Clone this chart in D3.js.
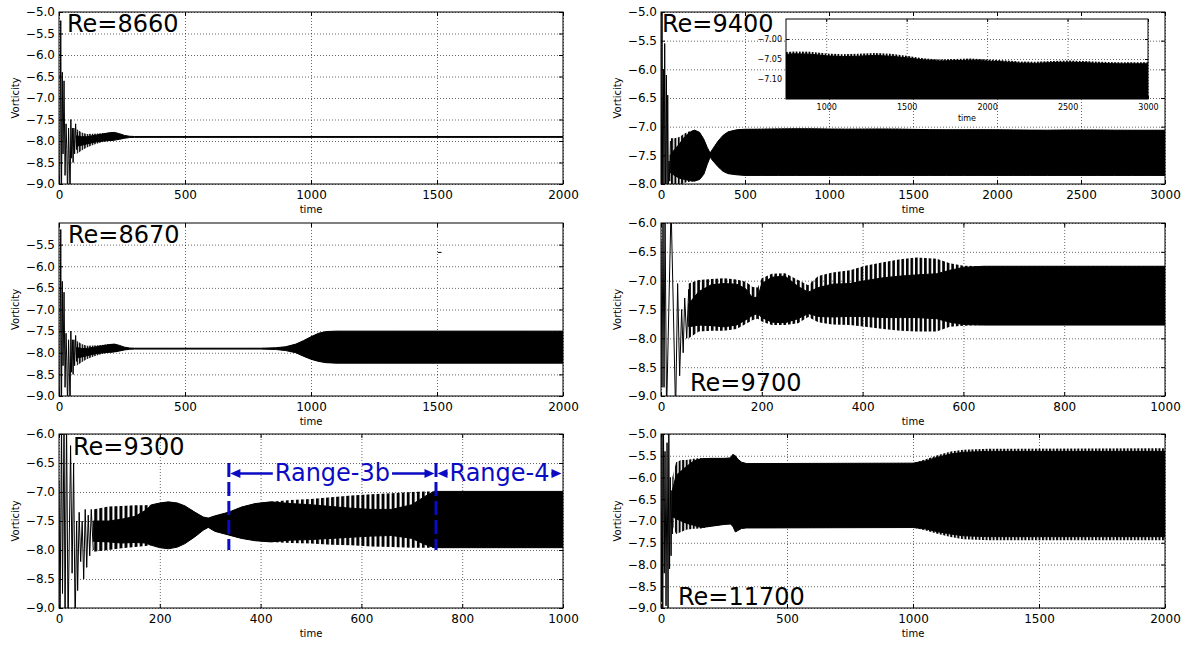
<!DOCTYPE html>
<html><head><meta charset="utf-8">
<script src="https://cdn.jsdelivr.net/npm/d3@7"></script>
<style>
body{margin:0;background:#fff;}
svg{display:block;font-family:"DejaVu Sans","Liberation Sans",sans-serif;}
</style></head><body>
<svg id="chart" width="1187" height="646"></svg>
<script>
// ---------------- tick values ----------------
const xTicks2000 = [0, 500, 1000, 1500, 2000];
const xTicks3000 = [0, 500, 1000, 1500, 2000, 2500, 3000];
const xTicks1000 = [0, 200, 400, 600, 800, 1000];
const yTicksA = [-9.0, -8.5, -8.0, -7.5, -7.0, -6.5, -6.0, -5.5, -5.0];
const yTicksB = [-8.0, -7.5, -7.0, -6.5, -6.0, -5.5, -5.0];
const yTicksC = [-9.0, -8.5, -8.0, -7.5, -7.0, -6.5, -6.0, -5.5];
const yTicksD = [-9.0, -8.5, -8.0, -7.5, -7.0, -6.5, -6.0];
const insetXTicks = [1000, 1500, 2000, 2500, 3000];
const insetYTicks = [-7.10, -7.05, -7.00];
const reLabels = ["Re=8660", "Re=9400", "Re=8670", "Re=9700", "Re=9300", "Re=11700"];
const rangeBounds = [337, 748, 1000];
const rangeLabels = ["Range-3b", "Range-4"];

// ---------------- series: early transient (time, vorticity) ----------------
const tr8660 = [[0,-8.8],[3,-9.3],[7,-5.2],[10,-9.3],[13,-6.4],[16,-8.3],[20,-6.6],[24,-8.8],[28,-7.6],[31,-8.2],[34,-9.3],[38,-7.7],[41,-8.4],[44,-9.3],[47,-7.5],[50,-8.4],[53,-7.7],[56,-8.5],[59,-7.7],[62,-8.3],[66,-7.6],[70,-8.2],[74,-7.8]];
const tr8670 = [[0,-8.8],[3,-9.3],[7,-5.15],[10,-9.3],[13,-6.35],[16,-8.3],[20,-6.6],[24,-8.8],[28,-7.55],[31,-8.2],[34,-9.3],[38,-7.7],[41,-8.4],[44,-9.3],[47,-7.5],[50,-8.45],[53,-7.7],[56,-8.5],[59,-7.7],[62,-8.3],[66,-7.6],[70,-8.2],[74,-7.8]];
const tr9400 = [[0,-7.0],[2,-8.2],[6,-4.8],[10,-8.2],[14,-6.0],[18,-8.2],[22,-5.55],[27,-8.2],[32,-6.1],[36,-8.1],[40,-6.45],[44,-8.1],[48,-7.6],[52,-7.95],[56,-7.25]];
const tr9700 = [[0,-6.3],[2,-8.85],[4,-5.8],[6,-8.85],[8,-5.8],[11,-9.3],[20,-5.7],[29,-9.3],[33,-7.05],[37,-8.65],[41,-7.5],[44,-8.25],[47,-7.3],[51,-8.0],[55,-7.15],[58,-7.95]];
const tr9300 = [[0,-6.8],[2,-9.3],[5,-5.8],[7,-8.75],[10,-5.8],[12,-9.3],[15,-5.8],[18,-9.3],[23,-6.2],[26,-8.4],[29,-6.5],[32,-9.3],[35,-7.5],[37,-8.7],[40,-7.35],[43,-8.2],[46,-7.5],[49,-8.5],[52,-7.3],[55,-8.3],[58,-7.4],[61,-8.1],[64,-7.3],[68,-8.0]];
const tr11700 = [[0,-6.8],[2,-8.85],[4,-4.8],[7,-9.3],[10,-4.8],[13,-8.2],[16,-5.4],[20,-8.95],[24,-5.2],[28,-9.3],[31,-4.8],[34,-8.1],[37,-6.0],[40,-7.8],[43,-6.3],[46,-7.3]];
const stray8670 = [[1503,-5.68],[1518,-5.68]];

// ---------------- series: oscillation envelope [time, tipHigh, coreHigh, coreLow, tipLow] ----------------
const band8660 = [
 [70,-7.72,-7.88,-8.12,-8.3],[90,-7.8,-7.9,-8.1,-8.22],[110,-7.84,-7.9,-8.07,-8.15],[140,-7.83,-7.87,-8.03,-8.08],
 [170,-7.82,-7.84,-8.0,-8.03],[200,-7.8,-7.81,-7.99,-8.0],[220,-7.8,-7.8,-7.98,-7.98],[240,-7.83,-7.83,-7.96,-7.96],
 [260,-7.87,-7.87,-7.935,-7.935],[280,-7.89,-7.89,-7.92,-7.92],[300,-7.895,-7.895,-7.915,-7.915],[2000,-7.895,-7.895,-7.915,-7.915]];
const band8670 = [
 [70,-7.72,-7.88,-8.12,-8.3],[90,-7.8,-7.9,-8.1,-8.22],[110,-7.84,-7.9,-8.07,-8.15],[140,-7.83,-7.87,-8.03,-8.08],
 [170,-7.82,-7.84,-8.0,-8.03],[200,-7.8,-7.81,-7.99,-8.0],[220,-7.8,-7.8,-7.98,-7.98],[240,-7.83,-7.83,-7.96,-7.96],
 [260,-7.87,-7.87,-7.935,-7.935],[280,-7.89,-7.89,-7.92,-7.92],[300,-7.895,-7.895,-7.915,-7.915],[800,-7.895,-7.895,-7.915,-7.915],
 [860,-7.885,-7.885,-7.925,-7.925],[900,-7.86,-7.86,-7.95,-7.95],[940,-7.8,-7.8,-8.0,-8.0],[970,-7.72,-7.72,-8.08,-8.08],
 [1000,-7.63,-7.63,-8.15,-8.15],[1030,-7.55,-7.55,-8.2,-8.2],[1060,-7.51,-7.51,-8.23,-8.23],[1100,-7.5,-7.5,-8.24,-8.24],[2000,-7.5,-7.5,-8.24,-8.24]];
const band9400 = [
 [55,-7.2,-7.5,-7.8,-8.05],[80,-7.2,-7.4,-7.85,-8.05],[110,-7.18,-7.3,-7.9,-8.02],[140,-7.12,-7.18,-7.92,-7.98],
 [170,-7.08,-7.1,-7.94,-7.96],[200,-7.06,-7.06,-7.95,-7.95],[230,-7.1,-7.1,-7.92,-7.92],[255,-7.22,-7.22,-7.83,-7.83],
 [275,-7.36,-7.36,-7.66,-7.66],[292,-7.46,-7.46,-7.53,-7.53],[310,-7.38,-7.38,-7.6,-7.6],[340,-7.25,-7.25,-7.7,-7.7],
 [370,-7.15,-7.15,-7.78,-7.78],[400,-7.09,-7.09,-7.82,-7.82],[450,-7.055,-7.055,-7.84,-7.84],[500,-7.045,-7.045,-7.85,-7.85],
 [600,-7.038,-7.044,-7.85,-7.85],[700,-7.034,-7.04,-7.85,-7.85],[800,-7.031,-7.037,-7.85,-7.85],[900,-7.032,-7.038,-7.85,-7.85],
 [1000,-7.036,-7.042,-7.85,-7.85],[1100,-7.038,-7.044,-7.85,-7.85],[1200,-7.037,-7.043,-7.85,-7.85],[1300,-7.035,-7.041,-7.85,-7.85],
 [1400,-7.037,-7.043,-7.85,-7.85],[1500,-7.042,-7.047,-7.85,-7.85],[1600,-7.048,-7.052,-7.85,-7.85],[1700,-7.051,-7.055,-7.85,-7.85],
 [1800,-7.05,-7.054,-7.85,-7.85],[1900,-7.049,-7.053,-7.85,-7.85],[2000,-7.051,-7.055,-7.85,-7.85],[2100,-7.053,-7.057,-7.85,-7.85],
 [2200,-7.056,-7.06,-7.85,-7.85],[2300,-7.057,-7.061,-7.85,-7.85],[2400,-7.055,-7.059,-7.85,-7.85],[2500,-7.054,-7.058,-7.85,-7.85],
 [2600,-7.055,-7.059,-7.85,-7.85],[2700,-7.057,-7.061,-7.85,-7.85],[2800,-7.058,-7.062,-7.85,-7.85],[2900,-7.058,-7.062,-7.85,-7.85],
 [3000,-7.058,-7.062,-7.85,-7.85]];
const band9700 = [
 [55,-7.05,-7.4,-7.8,-8.0],[75,-6.99,-7.19,-7.77,-7.88],[100,-6.97,-7.07,-7.78,-7.87],[125,-6.96,-7.05,-7.8,-7.87],
 [150,-6.98,-7.06,-7.77,-7.84],[168,-7.02,-7.14,-7.68,-7.75],[182,-7.11,-7.3,-7.6,-7.68],[192,-7.12,-7.28,-7.57,-7.66],
 [200,-6.96,-7.05,-7.64,-7.71],[220,-6.88,-6.94,-7.72,-7.77],[246,-6.87,-6.92,-7.73,-7.77],[272,-6.99,-7.1,-7.66,-7.74],
 [292,-7.08,-7.2,-7.57,-7.63],[312,-6.92,-7.12,-7.62,-7.72],[340,-6.86,-7.06,-7.63,-7.76],[375,-6.82,-7.05,-7.62,-7.77],
 [405,-6.74,-7.0,-7.62,-7.8],[441,-6.68,-6.95,-7.64,-7.84],[475,-6.63,-6.92,-7.64,-7.87],[507,-6.6,-6.9,-7.64,-7.88],
 [547,-6.62,-6.88,-7.66,-7.88],[573,-6.7,-6.82,-7.72,-7.8],[600,-6.74,-6.77,-7.76,-7.78],[640,-6.75,-6.75,-7.77,-7.77],
 [1000,-6.75,-6.75,-7.77,-7.77]];
const band9300 = [
 [68,-7.3,-7.5,-7.85,-8.03],[98,-7.25,-7.5,-7.86,-8.0],[124,-7.24,-7.47,-7.88,-7.97],[151,-7.23,-7.42,-7.87,-7.95],
 [171,-7.23,-7.32,-7.88,-7.93],[184,-7.22,-7.22,-7.92,-7.92],[200,-7.19,-7.19,-7.96,-7.96],[217,-7.17,-7.17,-7.98,-7.98],
 [235,-7.19,-7.19,-7.95,-7.95],[250,-7.24,-7.24,-7.89,-7.89],[270,-7.35,-7.35,-7.77,-7.77],[286,-7.43,-7.43,-7.66,-7.66],
 [296,-7.45,-7.45,-7.61,-7.61],[310,-7.41,-7.41,-7.68,-7.68],[336,-7.35,-7.35,-7.74,-7.74],[362,-7.26,-7.26,-7.8,-7.8],
 [389,-7.2,-7.2,-7.84,-7.84],[420,-7.17,-7.17,-7.86,-7.86],[460,-7.14,-7.2,-7.83,-7.88],[500,-7.12,-7.22,-7.82,-7.89],
 [540,-7.09,-7.25,-7.8,-7.91],[580,-7.06,-7.28,-7.78,-7.92],[620,-7.04,-7.3,-7.76,-7.94],[660,-7.02,-7.3,-7.75,-7.95],
 [700,-7.0,-7.22,-7.8,-7.96],[725,-6.99,-7.08,-7.9,-7.96],[745,-6.99,-6.99,-7.96,-7.96],[1000,-6.99,-6.99,-7.96,-7.96]];
const band11700 = [
 [45,-6.0,-6.3,-6.9,-7.1],[60,-5.65,-5.95,-6.95,-7.3],[80,-5.6,-5.85,-7.0,-7.25],[100,-5.6,-5.75,-7.05,-7.2],
 [130,-5.57,-5.62,-7.1,-7.18],[160,-5.55,-5.57,-7.15,-7.17],[200,-5.56,-5.56,-7.12,-7.12],[250,-5.56,-5.56,-7.08,-7.08],
 [275,-5.55,-5.55,-7.07,-7.07],[285,-5.47,-5.47,-7.12,-7.12],[295,-5.5,-5.5,-7.25,-7.25],[305,-5.58,-5.58,-7.22,-7.22],
 [320,-5.65,-5.65,-7.17,-7.17],[340,-5.68,-5.68,-7.16,-7.16],[1000,-5.67,-5.67,-7.15,-7.15],[1050,-5.58,-5.62,-7.18,-7.22],
 [1100,-5.48,-5.53,-7.25,-7.3],[1150,-5.4,-5.46,-7.3,-7.37],[1200,-5.36,-5.42,-7.34,-7.42],[1300,-5.34,-5.4,-7.36,-7.44],
 [2000,-5.33,-5.4,-7.36,-7.44]];
// approximate spacing of visible spikes (time units), per panel
const spikeSteps = [10, 20, 10, 9, 10, 14];

// ---------------- layout ----------------
const panels = [
 {id:"a", left:59,  right:563,  top:12,  bottom:184, xDomain:[0,2000], yDomain:[-9,-5], xTicks:xTicks2000, yTicks:yTicksA, tr:tr8660, band:band8660, re:reLabels[0], reX:67,  reY:32,  step:spikeSteps[0]},
 {id:"b", left:661, right:1165, top:12,  bottom:184, xDomain:[0,3000], yDomain:[-8,-5], xTicks:xTicks3000, yTicks:yTicksB, tr:tr9400, band:band9400, re:reLabels[1], reX:662, reY:32,  step:spikeSteps[1]},
 {id:"c", left:59,  right:563,  top:223, bottom:396, xDomain:[0,2000], yDomain:[-9,-5], xTicks:xTicks2000, yTicks:yTicksC, tr:tr8670, band:band8670, re:reLabels[2], reX:68,  reY:243, step:spikeSteps[2], stray:stray8670},
 {id:"d", left:661, right:1165, top:223, bottom:396, xDomain:[0,1000], yDomain:[-9,-6], xTicks:xTicks1000, yTicks:yTicksD, tr:tr9700, band:band9700, re:reLabels[3], reX:690, reY:391, step:spikeSteps[3]},
 {id:"e", left:59,  right:563,  top:434, bottom:608, xDomain:[0,1000], yDomain:[-9,-6], xTicks:xTicks1000, yTicks:yTicksD, tr:tr9300, band:band9300, re:reLabels[4], reX:73,  reY:455, step:spikeSteps[4]},
 {id:"f", left:661, right:1165, top:434, bottom:608, xDomain:[0,2000], yDomain:[-9,-5], xTicks:xTicks2000, yTicks:yTicksA, tr:tr11700, band:band11700, re:reLabels[5], reX:678, reY:605, step:spikeSteps[5]}
];

const svg = d3.select("#chart");
const defs = svg.append("defs");
const BLUE = "#0b0bc4";

function gridStyle(s){
  s.select(".domain").remove();
  s.selectAll("text").remove();
  s.selectAll("line").attr("stroke","#000").attr("stroke-width",0.7).attr("stroke-dasharray","1,2").attr("stroke-opacity",0.85);
}
function tickStyle(s, fs){
  s.select(".domain").remove();
  s.attr("font-family",null).attr("font-size",null);
  s.selectAll("line").attr("stroke","#000").attr("stroke-width",1);
  s.selectAll("text").attr("fill","#000").style("font-size", fs+"px");
}

function drawBand(g, x, y, band, patId){
  g.append("path").datum(band)
    .attr("d", d3.area().x(d=>x(d[0])).y0(d=>y(d[4])).y1(d=>y(d[1])))
    .attr("fill", `url(#${patId})`);
  g.append("path").datum(band)
    .attr("d", d3.area().x(d=>x(d[0])).y0(d=>y(d[3])).y1(d=>y(d[2])))
    .attr("fill","#000").attr("stroke","#000").attr("stroke-width",1);
}

function makePattern(id, x0, w){
  const pat = defs.append("pattern").attr("id", id).attr("patternUnits","userSpaceOnUse")
    .attr("x", x0).attr("y", 0).attr("width", w).attr("height", 10);
  pat.append("rect").attr("x",0).attr("y",0).attr("width", w*0.58).attr("height",10).attr("fill","#000");
}

function drawFrame(g, p, x, y, fs, tickLen, pad){
  const w = p.right-p.left, h = p.bottom-p.top;
  g.append("g").attr("transform",`translate(0,${p.bottom})`)
    .call(d3.axisBottom(x).tickValues(p.xTicks).tickSize(-tickLen).tickPadding(pad).tickFormat(d3.format("d")))
    .call(s=>tickStyle(s, fs));
  g.append("g").attr("transform",`translate(0,${p.top})`)
    .call(d3.axisTop(x).tickValues(p.xTicks).tickSize(-tickLen).tickFormat(""))
    .call(s=>tickStyle(s, fs));
  g.append("g").attr("transform",`translate(${p.left},0)`)
    .call(d3.axisLeft(y).tickValues(p.yTicks).tickSize(-tickLen).tickPadding(4).tickFormat(d3.format(p.yFmt || ".1f")))
    .call(s=>tickStyle(s, fs));
  g.append("g").attr("transform",`translate(${p.right},0)`)
    .call(d3.axisRight(y).tickValues(p.yTicks).tickSize(-tickLen).tickFormat(""))
    .call(s=>tickStyle(s, fs));
  g.append("rect").attr("x",p.left).attr("y",p.top).attr("width",w).attr("height",h)
    .attr("fill","none").attr("stroke","#000").attr("stroke-width",1);
}

function drawGrid(g, p, x, y){
  const w = p.right-p.left, h = p.bottom-p.top;
  g.append("g").attr("transform",`translate(0,${p.bottom})`)
    .call(d3.axisBottom(x).tickValues(p.xTicks).tickSize(-h)).call(gridStyle);
  g.append("g").attr("transform",`translate(${p.left},0)`)
    .call(d3.axisLeft(y).tickValues(p.yTicks).tickSize(-w)).call(gridStyle);
}

panels.forEach(p=>{
  const x = d3.scaleLinear().domain(p.xDomain).range([p.left,p.right]);
  const y = d3.scaleLinear().domain(p.yDomain).range([p.bottom,p.top]);
  const w = p.right-p.left, h = p.bottom-p.top;
  const g = svg.append("g");
  const clipId = "clip-"+p.id;
  defs.append("clipPath").attr("id",clipId).append("rect").attr("x",p.left).attr("y",p.top).attr("width",w).attr("height",h);
  drawGrid(g, p, x, y);
  const patId = "stripe-"+p.id;
  makePattern(patId, p.left, p.step*(x(1)-x(0)));
  const dg = g.append("g").attr("clip-path",`url(#${clipId})`);
  drawBand(dg, x, y, p.band, patId);
  dg.append("path").datum(p.tr)
    .attr("d", d3.line().x(d=>x(d[0])).y(d=>y(d[1])))
    .attr("fill","none").attr("stroke","#000").attr("stroke-width",1);
  if (p.stray) {
    dg.append("path").datum(p.stray).attr("d", d3.line().x(d=>x(d[0])).y(d=>y(d[1])))
      .attr("stroke","#000").attr("stroke-width",1);
  }
  drawFrame(g, p, x, y, 12, 4, 6);
  g.append("text").attr("x",(p.left+p.right)/2).attr("y",p.bottom+29).attr("text-anchor","middle")
    .style("font-size","10px").text("time");
  g.append("text").attr("transform",`translate(${p.left-44},${(p.top+p.bottom)/2}) rotate(-90)`)
    .attr("text-anchor","middle").attr("dy","0.35em").style("font-size","10px").text("Vorticity");
  g.append("text").attr("x",p.reX).attr("y",p.reY).style("font-size","24px").text(p.re);
  p.x = x; p.y = y;
});

// ---------------- inset of Re=9400 ----------------
(function(){
  const ip = {id:"inset", left:786, right:1148, top:19, bottom:99, xDomain:[750,3000], yDomain:[-7.15,-6.95],
              xTicks:insetXTicks, yTicks:insetYTicks, yFmt:".2f"};
  const x = d3.scaleLinear().domain(ip.xDomain).range([ip.left,ip.right]);
  const y = d3.scaleLinear().domain(ip.yDomain).range([ip.bottom,ip.top]);
  const w = ip.right-ip.left, h = ip.bottom-ip.top;
  const g = svg.append("g");
  g.append("rect").attr("x",ip.left).attr("y",ip.top).attr("width",w).attr("height",h).attr("fill","#fff");
  defs.append("clipPath").attr("id","clip-inset").append("rect").attr("x",ip.left).attr("y",ip.top).attr("width",w).attr("height",h);
  drawGrid(g, ip, x, y);
  makePattern("stripe-inset", ip.left, spikeSteps[1]*(x(1)-x(0)));
  const dg = g.append("g").attr("clip-path","url(#clip-inset)");
  drawBand(dg, x, y, band9400, "stripe-inset");
  drawFrame(g, ip, x, y, 8, 3, 5);
  g.append("text").attr("x",(ip.left+ip.right)/2).attr("y",ip.bottom+22).attr("text-anchor","middle")
    .style("font-size","8px").text("time");
})();

// ---------------- range annotation on Re=9300 ----------------
(function(){
  const p = panels[4];
  const x = p.x, y = p.y;
  const g = svg.append("g");
  const yArrow = y(-6.68);
  [rangeBounds[0], rangeBounds[1]].forEach(b=>{
    g.append("line").attr("x1",x(b)).attr("x2",x(b)).attr("y1",y(-6.5)).attr("y2",y(-8.0))
      .attr("stroke",BLUE).attr("stroke-width",3).attr("stroke-dasharray","14,5");
  });
  function head(xt, dir){
    const L = 10, H = 4.5;
    g.append("path").attr("d",`M${xt},${yArrow} L${xt-dir*L},${yArrow-H} L${xt-dir*L},${yArrow+H} Z`).attr("fill",BLUE);
  }
  function seg(x1,x2){
    g.append("line").attr("x1",x1).attr("x2",x2).attr("y1",yArrow).attr("y2",yArrow)
      .attr("stroke",BLUE).attr("stroke-width",2.5);
  }
  rangeLabels.forEach((lab,i)=>{
    const a = x(rangeBounds[i]), b = x(rangeBounds[i+1]);
    const t = g.append("text").attr("x",(a+b)/2).attr("y",yArrow+8).attr("text-anchor","middle")
      .style("font-size","24px").attr("fill",BLUE).text(lab);
    const tw = t.node().getComputedTextLength();
    const ts = (a+b)/2 - tw/2 - 2, te = (a+b)/2 + tw/2 + 2;
    seg(a+8, ts); head(a+1.5, -1);
    seg(te, b-8); head(b-1.5, 1);
  });
})();
</script>
</body></html>
